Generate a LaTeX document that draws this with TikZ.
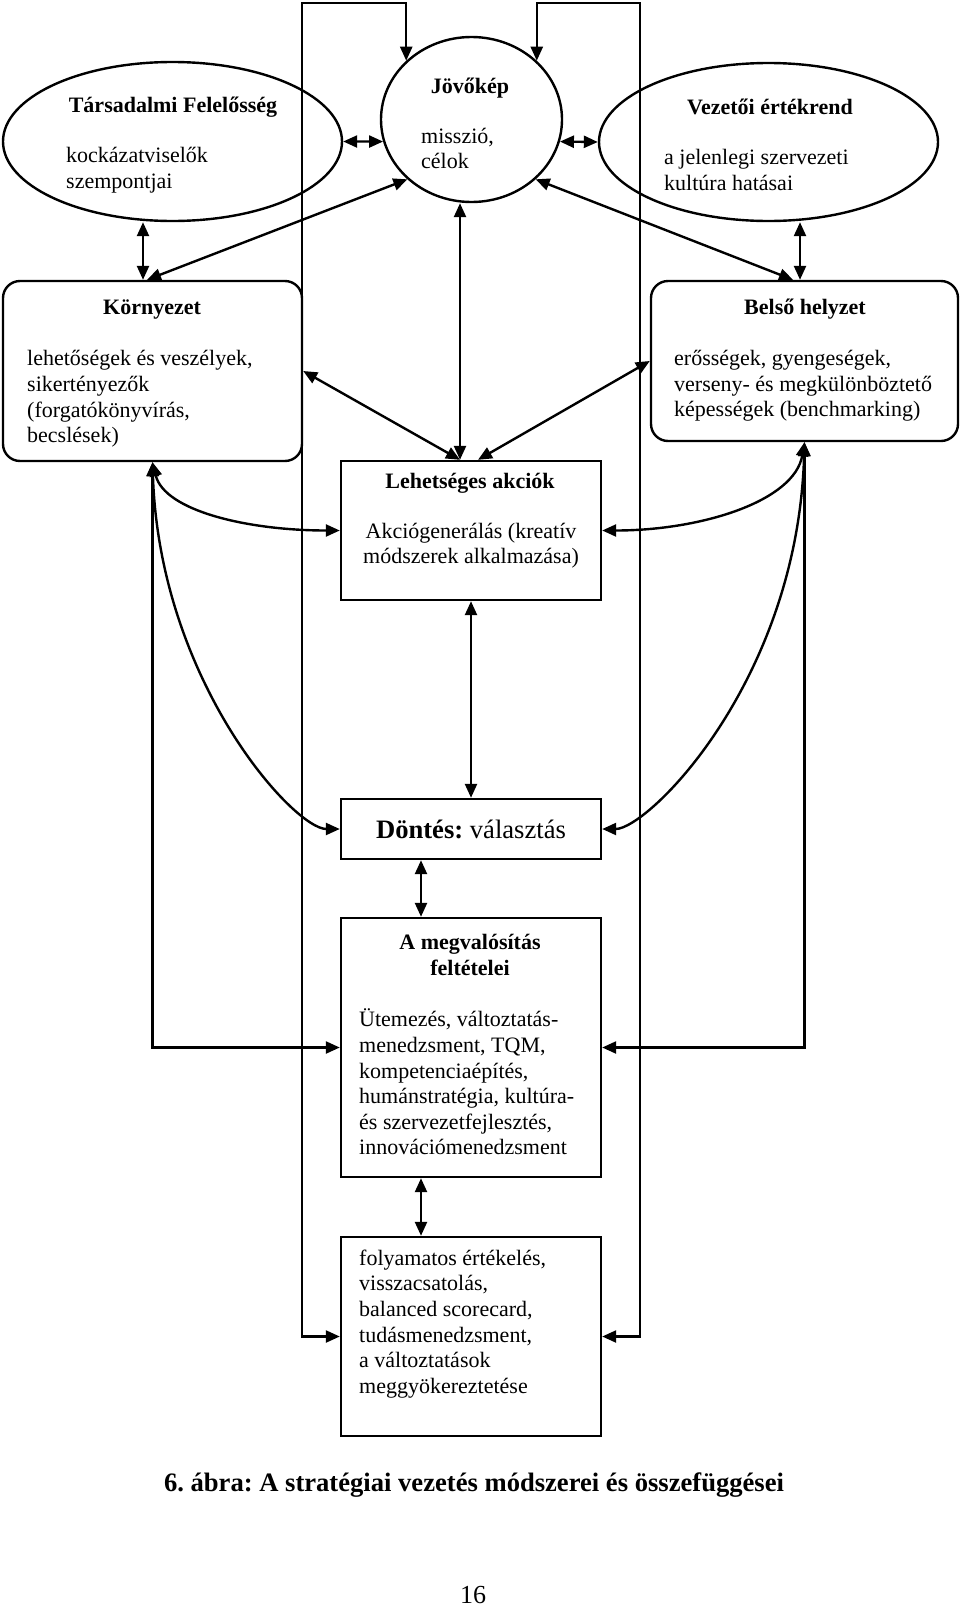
\documentclass[tikz,border=0pt]{standalone}
\usepackage{fontspec}
\setmainfont{Liberation Serif}
\frenchspacing
\usetikzlibrary{arrows.meta,shapes.geometric}

\begin{document}
\begin{tikzpicture}[x=0.5pt,y=-0.5pt,line width=1.2pt,
   oval/.style={draw,ellipse,inner sep=0pt},
   rbox/.style={draw,rounded corners=8.5pt,inner sep=0pt},
   sbox/.style={draw,inner sep=0pt,minimum width=130pt},
   headtxt/.style={font=\fontsize{11}{12.8}\selectfont\bfseries,align=center,inner sep=0pt},
   bodytxt/.style={font=\fontsize{11}{12.8}\selectfont,align=left,anchor=west,inner sep=0pt},
   link/.style={{Triangle[length=7pt,width=6pt]}-{Triangle[length=7pt,width=6pt]}}]
   \useasboundingbox (0,0) rectangle (960,1606);

   \node[oval,minimum width=169.5pt,minimum height=79.5pt] (tars) at (172.5,141.5) {};
   \node[oval,minimum width=90.5pt,minimum height=82.5pt] (jov) at (471.5,119.5) {};
   \node[oval,minimum width=169.5pt,minimum height=79pt] (vez) at (768.5,142) {};
   \node[rbox,minimum width=149.5pt,minimum height=90pt] (korny) at (152.5,371) {};
   \node[rbox,minimum width=153.5pt,minimum height=80pt] (belso) at (804.5,361) {};
   \node[sbox,minimum height=69.5pt] (lehet) at (471,530.5) {};
   \node[sbox,minimum height=30pt,font=\fontsize{13.3}{16}\selectfont] (dontes) at (471,829)
    {\textbf{Döntés:} választás};
   \node[sbox,minimum height=129.5pt] (megv) at (471,1047.5) {};
   \node[sbox,minimum height=99.5pt] (folyam) at (471,1336.5) {};

   \node[headtxt] (tars-t) at (173,107) {Társadalmi Felelősség};
   \node[bodytxt] (tars-b) at (65,170) {kockázatviselők\\szempontjai};
   \node[headtxt] (jov-t) at (470,88) {Jövőkép};
   \node[bodytxt] (jov-b) at (420,148.5) {misszió,\\célok};
   \node[headtxt] (vez-t) at (770,107) {Vezetői értékrend};
   \node[bodytxt] (vez-b) at (663,170) {a jelenlegi szervezeti\\kultúra hatásai};
   \node[headtxt] (korny-t) at (152,310) {Környezet};
   \node[bodytxt] (korny-b) at (26,399)
    {lehetőségek és veszélyek,\\sikertényezők\\(forgatókönyvírás,\\becslések)};
   \node[headtxt] (belso-t) at (805,309) {Belső helyzet};
   \node[bodytxt] (belso-b) at (673,386)
    {erősségek, gyengeségek,\\verseny- és megkülönböztető\\képességek (benchmarking)};
   \node[headtxt] (lehet-t) at (470,483) {Lehetséges akciók};
   \node[bodytxt,anchor=center,align=center] (lehet-b) at (471,545.5)
    {Akciógenerálás (kreatív\\módszerek alkalmazása)};
   \node[headtxt] (megv-t) at (470,955) {A megvalósítás\\feltételei};
   \node[bodytxt] (megv-b) at (358,1082)
    {Ütemezés, változtatás-\\menedzsment, TQM,\\kompetenciaépítés,\\humánstratégia, kultúra-\\és szervezetfejlesztés,\\innovációmenedzsment};
   \node[bodytxt] (folyam-b) at (358,1324)
    {folyamatos értékelés,\\visszacsatolás,\\balanced scorecard,\\tudásmenedzsment,\\a változtatások\\meggyökereztetése};
   \node[font=\fontsize{13.3}{16}\selectfont\bfseries,inner sep=0pt] (caption) at (474,1485)
    {6. ábra: A stratégiai vezetés módszerei és összefüggései};
   \node[font=\fontsize{13}{16}\selectfont,inner sep=0pt] (page) at (473,1595) {16};

   \draw[link] (tars.east) -- (jov.194);
   \draw[link] (jov.346) -- (vez.west);
   \draw[link] (143,0 |- tars.south) -- (143,0 |- korny.north);
   \draw[link] (800,0 |- vez.south) -- (800,0 |- belso.north);
   \draw[link] (jov.223) -- (147,0 |- korny.north);
   \draw[link] (jov.317) -- (793,0 |- belso.north);
   \draw[link] (460,0 |- jov.south) -- (460,0 |- lehet.north);
   \draw[link] (korny.east) -- (460,0 |- lehet.north);
   \draw[link] (belso.west) -- (478,0 |- lehet.north);
   \draw[link] (korny.south) .. controls +(12,49) and +(-91,0) .. (lehet.west);
   \draw[link] (korny.south) .. controls +(7,219) and +(-46,0) .. (dontes.west);
   \draw[link] (belso.south) .. controls +(-10,59) and +(99,0) .. (lehet.east);
   \draw[link] (belso.south) .. controls +(-7,239) and +(46,0) .. (dontes.east);
   \draw[link] (korny.south) |- (megv.west);
   \draw[link] (belso.south) |- (megv.east);
   \draw[link] (lehet.south) -- (dontes.north);
   \draw[link] (421,0 |- dontes.south) -- (421,0 |- megv.north);
   \draw[link] (421,0 |- megv.south) -- (421,0 |- folyam.north);
   \draw[link] (folyam.west) -- (302,0 |- folyam.west) -- (302,3) -| (jov.138);
   \draw[link] (folyam.east) -- (640,0 |- folyam.east) -- (640,3) -| (jov.42);
  \end{tikzpicture}
\end{document}
